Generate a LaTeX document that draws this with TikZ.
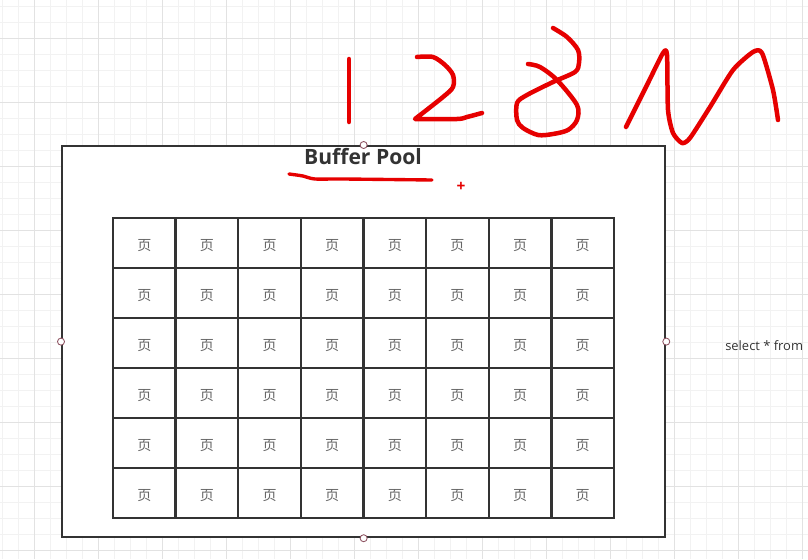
\documentclass[tikz,border=0pt]{standalone}
\usepackage{fontspec}
\setmainfont{Open Sans}
\newfontfamily\cjk{Noto Sans CJK SC}
\usetikzlibrary{positioning}
\definecolor{inkred}{RGB}{230, 0, 0}
\definecolor{linegray}{RGB}{51, 51, 51}
\definecolor{gridminor}{RGB}{242, 242, 242}
\definecolor{gridmajor}{RGB}{226, 226, 226}
\definecolor{handlered}{RGB}{140, 80, 95}
\newcommand{\pagemark}{\raisebox{-1.6pt}[\height][\depth]{页}}

\begin{document}
\begin{tikzpicture}[
  x=0.025cm, y=-0.025cm,
  cellbox/.style={draw=linegray, line width=1.6pt, minimum width=1.5656cm, minimum height=1.25cm, inner sep=0pt, font=\cjk\fontsize{10}{12}\selectfont, text=black!60},
  poolbox/.style={draw=linegray, line width=1.5pt, fill=white, inner sep=0pt, minimum width=15.075cm, minimum height=9.775cm},
  handle/.style={circle, draw=handlered, fill=white, line width=0.6pt, minimum size=5pt, inner sep=0pt},
  ink/.style={draw=inkred, line width=3.2pt, line cap=round, line join=round}
]
  \useasboundingbox[fill=white] (0,0) rectangle (808,559);
  % background grid
  \foreach \x in {2,18,...,802} \draw[gridminor, line width=0.5pt] (\x,0) -- (\x,559);
  \foreach \y in {6,22,...,558} \draw[gridminor, line width=0.5pt] (0,\y) -- (808,\y);
  \foreach \x in {34,98,...,802} \draw[gridmajor, line width=0.6pt] (\x,0) -- (\x,559);
  \foreach \y in {38,102,...,558} \draw[gridmajor, line width=0.6pt] (0,\y) -- (808,\y);

  % the pool and its pages
  \node[poolbox, anchor=north west] (pool) at (61,145) {};
  \node[font=\bfseries\fontsize{15}{18}\selectfont, text=linegray] (title) at (363,157) {Buffer Pool};
  \foreach \r in {1,...,6}
    \foreach \c in {1,...,8}
      \node[cellbox] (cell-\r-\c) at ({113+62.625*(\c-0.5)}, {218+50*(\r-0.5)}) {\pagemark};

  % selection handles
  \foreach \side in {north, south, west, east}
    \node[handle] (grip-\side) at (pool.\side) {};

  \node[text=inkred, font=\bfseries\fontsize{11}{11}\selectfont, inner sep=0pt] (cursor) at (461,187) {+};
  \node[anchor=west, inner sep=0pt, text=linegray, font=\fontsize{9.2}{11}\selectfont] (query) at (725,346) {select * from};

  % handwriting
  \draw[ink, line width=2.4pt] plot[smooth] coordinates {(289,174) (303,176) (315,179) (343,179) (432,180)};
  \draw[ink] (349,59) -- (349,122);
  \draw[ink] plot[smooth, tension=0.5] coordinates {(417,57) (433,57) (445,65) (453,75) (453,87) (443,97) (415,119)}
    -- plot[smooth, tension=0.5] coordinates {(415,119) (457,119) (467,117) (482,113)};
  \draw[ink] plot[smooth, tension=0.5] coordinates {(553,28) (567,37) (578,50) (579,63) (575,72) (553,82) (527,95) (517,103) (517,120) (523,128) (538,135) (553,134) (568,130) (577,120) (577,105) (557,80) (540,67) (528,64)};
  \draw[ink] plot[smooth, tension=0.4] coordinates {(626,127) (647,85) (663,53) (667,55) (668,110) (673,133) (682,143) (690,138) (710,107) (733,70) (753,52) (762,53) (773,90) (778,120)};
\end{tikzpicture}
\end{document}
